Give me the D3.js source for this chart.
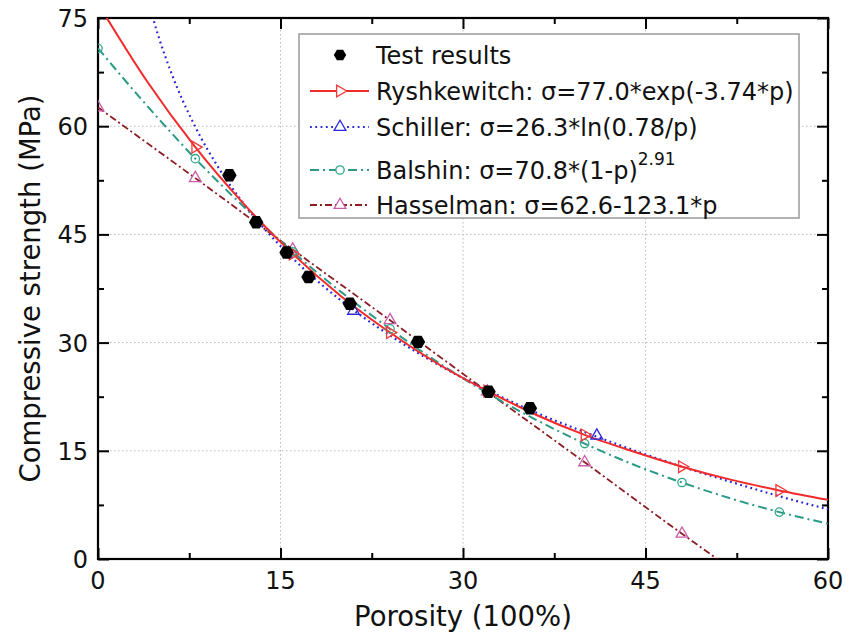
<!DOCTYPE html>
<html>
<head>
<meta charset="utf-8">
<script src="https://cdn.jsdelivr.net/npm/d3@7"></script>
<style>
  body { margin: 0; background: #fff; }
  svg { display: block; font-family: "DejaVu Sans", sans-serif; }
  .grid line { stroke: #b8b8b8; stroke-width: 1; stroke-dasharray: 1.5,2.5; }
  .tick-label { font-size: 24px; fill: #111; }
  .axis-title { font-size: 27.5px; fill: #111; }
  .legend-text { font-size: 24px; fill: #111; }
</style>
</head>
<body>
<svg width="849" height="639"></svg>
<script>
// Data (porosity in %, strength in MPa)
let testP = [10.8, 13.0, 15.5, 17.3, 20.7, 26.3, 32.1, 35.5];
let testS = [53.2, 46.7, 42.5, 39.1, 35.4, 30.1, 23.2, 20.9];

let porosity = [0, 4, 8, 12, 16, 20, 24, 28, 32, 36, 40, 44, 48, 52, 56, 60];
let ryshkewitch = [77.0, 66.3, 57.1, 49.2, 42.3, 36.4, 31.4, 27.0, 23.3, 20.0, 17.2, 14.9, 12.8, 11.0, 9.5, 8.2];
let balshin = [70.8, 62.9, 55.5, 48.8, 42.6, 37.0, 31.9, 27.2, 23.0, 19.3, 16.0, 13.1, 10.6, 8.4, 6.5, 4.9];

let schillerP = [4, 5, 6, 8, 10, 12, 16, 20, 24, 28, 32, 36, 40, 44, 48, 52, 56, 60];
let schiller = [78.1, 72.3, 67.5, 59.9, 54.0, 49.2, 41.7, 35.8, 31.0, 26.9, 23.4, 20.3, 17.6, 15.1, 12.8, 10.7, 8.7, 6.9];
let schillerMarkP = [21, 41];
let schillerMarkS = [34.4, 17.1];

let hasselmanP = [0, 8, 16, 24, 32, 40, 48, 50.9];
let hasselman = [62.6, 52.8, 42.9, 33.1, 23.2, 13.4, 3.5, 0];

let xTicks = [0, 15, 30, 45, 60];
let yTicks = [0, 15, 30, 45, 60, 75];

// Set up layout
let svg = d3.select("svg");
let plotLeft = 98, plotTop = 18, plotRight = 828, plotBottom = 559;

let x = d3.scaleLinear().domain([0, 60]).range([plotLeft, plotRight]);
let y = d3.scaleLinear().domain([0, 75]).range([plotBottom, plotTop]);

let zip = function(ps, ss) { return ps.map(function(p, i) { return {p: p, s: ss[i]}; }); };
let rData = zip(porosity, ryshkewitch);
let bData = zip(porosity, balshin);
let sData = zip(schillerP, schiller);
let hData = zip(hasselmanP, hasselman);

// Grid
let grid = svg.append("g").attr("class", "grid");
grid.selectAll("line.gx")
    .data(xTicks.slice(1, -1))
    .enter().append("line")
    .attr("x1", function(d) { return x(d); })
    .attr("x2", function(d) { return x(d); })
    .attr("y1", plotTop)
    .attr("y2", plotBottom);
grid.selectAll("line.gy")
    .data(yTicks.slice(1, -1))
    .enter().append("line")
    .attr("x1", plotLeft)
    .attr("x2", plotRight)
    .attr("y1", function(d) { return y(d); })
    .attr("y2", function(d) { return y(d); });

// Axes with inward ticks on all four sides
let xTickVals = d3.range(0, 60.1, 7.5);
let yTickVals = d3.range(0, 75.1, 7.5);
let xAxisB = d3.axisBottom(x).tickValues(xTickVals).tickSizeInner(-11).tickSizeOuter(0).tickFormat("");
let xAxisT = d3.axisTop(x).tickValues(xTickVals).tickSizeInner(-11).tickSizeOuter(0).tickFormat("");
let yAxisL = d3.axisLeft(y).tickValues(yTickVals).tickSizeInner(-11).tickSizeOuter(0).tickFormat("");
let yAxisR = d3.axisRight(y).tickValues(yTickVals).tickSizeInner(-11).tickSizeOuter(0).tickFormat("");

let axes = [
    svg.append("g").attr("transform", "translate(0," + plotBottom + ")").call(xAxisB),
    svg.append("g").attr("transform", "translate(0," + plotTop + ")").call(xAxisT),
    svg.append("g").attr("transform", "translate(" + plotLeft + ",0)").call(yAxisL),
    svg.append("g").attr("transform", "translate(" + plotRight + ",0)").call(yAxisR)
];
axes.forEach(function(a) {
    a.select(".domain").remove();
    a.selectAll(".tick line")
        .attr("stroke", "#000")
        .attr("stroke-width", 2);
});
// minor ticks shorter
axes[0].selectAll(".tick line").filter(function(d) { return d % 15 !== 0; }).attr("y2", -6);
axes[1].selectAll(".tick line").filter(function(d) { return d % 15 !== 0; }).attr("y2", 6);
axes[2].selectAll(".tick line").filter(function(d) { return d % 15 !== 0; }).attr("x2", 6);
axes[3].selectAll(".tick line").filter(function(d) { return d % 15 !== 0; }).attr("x2", -6);

svg.append("rect")
    .attr("x", plotLeft)
    .attr("y", plotTop)
    .attr("width", plotRight - plotLeft)
    .attr("height", plotBottom - plotTop)
    .attr("fill", "none")
    .attr("stroke", "#000")
    .attr("stroke-width", 2.2);

// Tick labels
svg.selectAll("text.xl")
    .data(xTicks)
    .enter().append("text")
    .attr("class", "tick-label")
    .attr("x", function(d) { return x(d); })
    .attr("y", plotBottom + 30)
    .attr("text-anchor", "middle")
    .text(function(d) { return d; });

svg.selectAll("text.yl")
    .data(yTicks)
    .enter().append("text")
    .attr("class", "tick-label")
    .attr("x", plotLeft - 10)
    .attr("y", function(d) { return y(d) + 9; })
    .attr("text-anchor", "end")
    .text(function(d) { return d; });

// Axis titles
svg.append("text")
    .attr("class", "axis-title")
    .attr("x", (plotLeft + plotRight) / 2)
    .attr("y", 626)
    .attr("text-anchor", "middle")
    .text("Porosity (100%)");

svg.append("text")
    .attr("class", "axis-title")
    .attr("transform", "translate(40," + ((plotTop + plotBottom) / 2) + ") rotate(-90)")
    .attr("text-anchor", "middle")
    .text("Compressive strength (MPa)");

// Curves
svg.append("clipPath").attr("id", "plot-clip")
    .append("rect")
    .attr("x", plotLeft).attr("y", plotTop)
    .attr("width", plotRight - plotLeft).attr("height", plotBottom - plotTop);

let plot = svg.append("g").attr("clip-path", "url(#plot-clip)");

let line = d3.line()
    .x(function(d) { return x(d.p); })
    .y(function(d) { return y(d.s); })
    .curve(d3.curveMonotoneX);

let series = [
    {name: "hasselman", data: hData, color: "#8b1c22", dash: "7,3,2,3", width: 1.8},
    {name: "balshin", data: bData, color: "#2a9a86", dash: "9,4,2,4", width: 2},
    {name: "schiller", data: sData, color: "#2626d6", dash: "1.8,3.5", width: 2.2},
    {name: "ryshkewitch", data: rData, color: "#f22a2a", dash: null, width: 2}
];

plot.selectAll("path.curve")
    .data(series)
    .enter().append("path")
    .attr("class", "curve")
    .attr("d", function(d) { return line(d.data); })
    .attr("fill", "none")
    .attr("stroke", function(d) { return d.color; })
    .attr("stroke-width", function(d) { return d.width; })
    .attr("stroke-dasharray", function(d) { return d.dash; });

// Markers
let triUp = d3.symbol().type(d3.symbolTriangle).size(60);
let circ = d3.symbol().type(d3.symbolCircle).size(55);

let hexagon = {
    draw: function(context, size) {
        let r = Math.sqrt(size / 2.598);
        for (let i = 0; i < 6; ++i) {
            let a = i * Math.PI / 3;
            if (i === 0) context.moveTo(r * Math.cos(a), r * Math.sin(a));
            else context.lineTo(r * Math.cos(a), r * Math.sin(a));
        }
        context.closePath();
    }
};

plot.selectAll("path.hmark")
    .data(hData.filter(function(d) { return d.p % 8 === 0; }))
    .enter().append("path")
    .attr("d", triUp)
    .attr("transform", function(d) { return "translate(" + x(d.p) + "," + y(d.s) + ")"; })
    .attr("fill", "none")
    .attr("stroke", "#c85ca8")
    .attr("stroke-width", 1.3);

plot.selectAll("path.bmark")
    .data(bData.filter(function(d) { return d.p % 8 === 0 && d.p < 60; }))
    .enter().append("path")
    .attr("d", circ)
    .attr("transform", function(d) { return "translate(" + x(d.p) + "," + y(d.s) + ")"; })
    .attr("fill", "none")
    .attr("stroke", "#30a888")
    .attr("stroke-width", 1.3);

plot.selectAll("path.smark")
    .data(zip(schillerMarkP, schillerMarkS))
    .enter().append("path")
    .attr("d", triUp)
    .attr("transform", function(d) { return "translate(" + x(d.p) + "," + y(d.s) + ")"; })
    .attr("fill", "none")
    .attr("stroke", "#2a2ae0")
    .attr("stroke-width", 1.3);

plot.selectAll("path.rmark")
    .data(rData.filter(function(d) { return d.p % 8 === 0 && d.p > 0 && d.p < 60; }))
    .enter().append("path")
    .attr("d", triUp)
    .attr("transform", function(d) { return "translate(" + x(d.p) + "," + y(d.s) + ") rotate(90)"; })
    .attr("fill", "none")
    .attr("stroke", "#f03a3a")
    .attr("stroke-width", 1.3);

plot.selectAll("path.test")
    .data(zip(testP, testS))
    .enter().append("path")
    .attr("d", d3.symbol().type(hexagon).size(135))
    .attr("transform", function(d) { return "translate(" + x(d.p) + "," + y(d.s) + ")"; })
    .attr("fill", "#000");

// Legend
let legend = svg.append("g");
legend.append("rect")
    .attr("x", 299)
    .attr("y", 34)
    .attr("width", 500)
    .attr("height", 184)
    .attr("fill", "#fff")
    .attr("stroke", "#999")
    .attr("stroke-width", 1.5);

let legendRows = [
    {y: 55, label: "Test results", key: "test"},
    {y: 91, label: "Ryshkewitch: σ=77.0*exp(-3.74*p)", key: "ryshkewitch"},
    {y: 127, label: "Schiller: σ=26.3*ln(0.78/p)", key: "schiller"},
    {y: 170, label: "Balshin: σ=70.8*(1-p)", sup: "2.91", key: "balshin"},
    {y: 205, label: "Hasselman: σ=62.6-123.1*p", key: "hasselman"}
];

legendRows.forEach(function(row) {
    let s = series.filter(function(d) { return d.name === row.key; })[0];
    if (s) {
        legend.append("line")
            .attr("x1", 310).attr("x2", 369)
            .attr("y1", row.y).attr("y2", row.y)
            .attr("stroke", s.color)
            .attr("stroke-width", s.width)
            .attr("stroke-dasharray", s.dash);
    }
    let mark = legend.append("path").attr("transform", "translate(340," + row.y + ")");
    if (row.key === "test") mark.attr("d", d3.symbol().type(hexagon).size(100)).attr("fill", "#000");
    if (row.key === "ryshkewitch") mark.attr("d", triUp).attr("transform", "translate(340," + row.y + ") rotate(90)").attr("fill", "#fff").attr("stroke", "#f03a3a").attr("stroke-width", 1.3);
    if (row.key === "schiller") mark.attr("d", triUp).attr("fill", "#fff").attr("stroke", "#2a2ae0").attr("stroke-width", 1.3);
    if (row.key === "balshin") mark.attr("d", circ).attr("fill", "#fff").attr("stroke", "#30a888").attr("stroke-width", 1.3);
    if (row.key === "hasselman") mark.attr("d", triUp).attr("fill", "#fff").attr("stroke", "#c85ca8").attr("stroke-width", 1.3);

    let t = legend.append("text")
        .attr("class", "legend-text")
        .attr("x", 376)
        .attr("y", row.y + 9)
        .text(row.label);
    if (row.sup) {
        t.append("tspan")
            .attr("dy", -14)
            .attr("font-size", 17)
            .text(row.sup);
    }
});
</script>
</body>
</html>
